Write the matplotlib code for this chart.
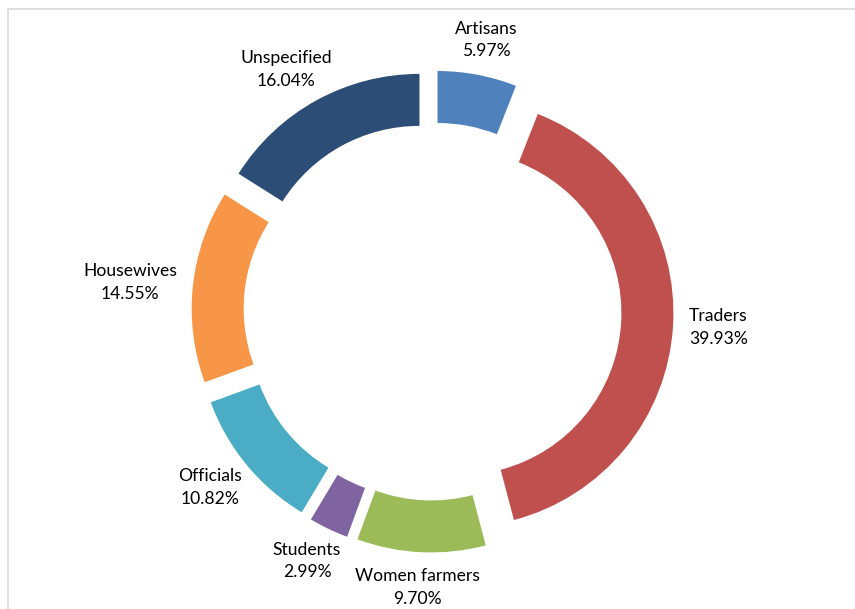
import numpy as np
import matplotlib.pyplot as plt
from matplotlib.patches import Rectangle

categories = ["Artisans", "Traders", "Women farmers", "Students", "Officials", "Housewives", "Unspecified"]
shares = [5.97, 39.93, 9.70, 2.99, 10.82, 14.55, 16.04]
colors = ["#4F81BD", "#C0504D", "#9BBB59", "#8064A2", "#4BACC6", "#F79646", "#2C4D75"]

W, H = 855, 609
plt.rcParams["font.family"] = ["Lato", "DejaVu Sans"]

fig = plt.figure(figsize=(W / 100, H / 100), dpi=100)
fig.patch.set_facecolor("white")

# chart frame (only left and top visible in the crop)
fig.patches.append(Rectangle((8 / W, -0.05), 1.2, 1.05 - 9 / H, transform=fig.transFigure,
                             fill=False, edgecolor="#D9D9D9", linewidth=1.2))

# pixel geometry of the ring
cx, cy, R = 432.5, 311.5, 214
half_w, half_h = 300, 297
ax = fig.add_axes([(cx - half_w) / W, (H - cy - half_h) / H, 2 * half_w / W, 2 * half_h / H])

explode_frac = 0.126
ring = 0.243
wedges, _ = ax.pie(shares, colors=colors, startangle=90, counterclock=False,
                   explode=[explode_frac] * len(shares),
                   wedgeprops=dict(width=ring, linewidth=0))
ax.set_xlim(-half_w / R, half_w / R)
ax.set_ylim(-half_h / R, half_h / R)
ax.set_aspect("auto")
ax.axis("off")

# labels: text box pushed outward along the wedge's mid angle
renderer = fig.canvas.get_renderer()
r_lab = 257 / R
for w, name, v in zip(wedges, categories, shares):
    th = np.deg2rad((w.theta1 + w.theta2) / 2)
    c, s = np.cos(th), np.sin(th)
    t = ax.text(0, 0, f"{name}\n{v:.2f}%", ha="center", va="center",
                multialignment="center", fontsize=12.6, linespacing=1.5, color="#000000")
    bb = t.get_window_extent(renderer)
    hw, hh = bb.width / 2 / R, bb.height / 2 / R
    t.set_position((r_lab * c + hw * c, r_lab * s + hh * s))

fig.savefig("out.png", dpi=100, facecolor="white")
